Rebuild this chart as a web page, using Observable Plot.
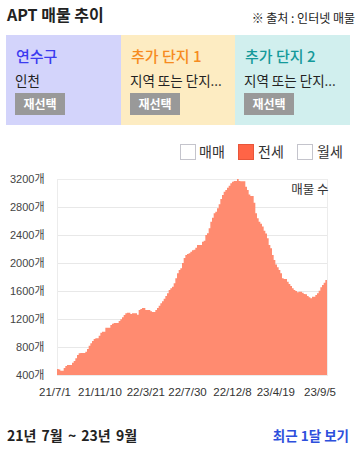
<!DOCTYPE html>
<html><head><meta charset="utf-8">
<script src="https://cdn.jsdelivr.net/npm/d3@7"></script>
<script src="https://cdn.jsdelivr.net/npm/@observablehq/plot@0.6"></script>
<style>
body{margin:0;width:358px;height:449px;position:relative;overflow:hidden;background:#fff;font-family:"Noto Sans CJK KR","Noto Sans",sans-serif;color:#222;}
.abs{position:absolute;white-space:nowrap;}
.panel{position:absolute;top:35px;height:90px;}
.pt{position:absolute;left:10px;top:13px;font-size:15px;line-height:15px;font-weight:500;}
.ps{position:absolute;left:9px;top:38px;font-size:13.5px;line-height:14px;color:#222;}
.btn{position:absolute;left:9px;top:58px;width:50px;height:22px;background:#999;color:#fff;font-size:12px;font-weight:700;line-height:22px;text-align:center;}
.box{position:absolute;top:144px;width:14px;height:14px;border:1px solid #c4c4cc;background:#fff;}
.lt{position:absolute;top:144px;font-size:14px;line-height:14px;color:#333;}
#chart{position:absolute;left:0;top:170px;}
</style></head>
<body>
<div class="abs" style="left:7px;top:6px;font-size:16px;line-height:16px;font-weight:700;">APT 매물 추이</div>
<div class="abs" style="right:3px;top:12px;font-size:12px;line-height:12px;color:#222;">※ 출처 : 인터넷 매물</div>

<div class="panel" style="left:6px;width:115px;background:#d3d4fb;">
  <div class="pt" style="color:#3b3bf0;">연수구</div>
  <div class="ps">인천</div>
  <div class="btn">재선택</div>
</div>
<div class="panel" style="left:121px;width:114px;background:#fdecc2;">
  <div class="pt" style="color:#f68b1f;">추가 단지 1</div>
  <div class="ps">지역 또는 단지...</div>
  <div class="btn">재선택</div>
</div>
<div class="panel" style="left:235px;width:115px;background:#d1efee;">
  <div class="pt" style="color:#14999a;">추가 단지 2</div>
  <div class="ps">지역 또는 단지...</div>
  <div class="btn">재선택</div>
</div>

<div class="box" style="left:180px;"></div>
<div class="lt" style="left:199px;">매매</div>
<div class="box" style="left:238px;background:#ff6446;border-color:#e8553a;"></div>
<div class="lt" style="left:258px;">전세</div>
<div class="box" style="left:297px;"></div>
<div class="lt" style="left:317px;">월세</div>

<div id="chart"></div>

<div class="abs" style="left:7px;top:428px;font-size:14px;line-height:14px;font-weight:600;color:#222;word-spacing:2px;">21년 7월 ~ 23년 9월</div>
<div class="abs" style="right:9px;top:428px;font-size:13.5px;line-height:14px;font-weight:600;color:#2d4fdc;">최근 1달 보기</div>

<script>
// 전세 매물 수 (개), equally spaced records
const listings = [
 486,480,461,461,500,529,543,543,543,576,600,638,686,710,714,714,714,733,771,819,
 853,886,914,924,924,962,1005,1019,1019,1076,1076,1076,1114,1133,1143,1143,1143,1171,1195,1224,
 1257,1281,1290,1290,1271,1281,1281,1281,1262,1329,1343,1357,1357,1329,1329,1329,1310,1300,1300,1329,
 1357,1390,1424,1452,1490,1529,1567,1614,1638,1660,1710,1781,1852,1900,1924,2000,2071,2114,2129,2140,
 2160,2181,2190,2219,2257,2257,2257,2305,2319,2400,2424,2495,2590,2648,2710,2733,2781,2838,2914,2971,
 3019,3043,3076,3105,3140,3162,3171,3171,3200,3171,3167,3167,3167,3090,3043,2980,2957,2957,2860,2710,
 2640,2590,2560,2520,2462,2420,2352,2257,2210,2114,2043,1980,1938,1900,1852,1781,1771,1771,1733,1700,
 1671,1638,1614,1600,1581,1590,1590,1576,1557,1553,1529,1510,1495,1519,1519,1543,1567,1605,1652,1686,
 1719,1757,1757
];
const tickLabels = ["21/7/1","21/11/10","22/3/21","22/7/30","22/12/8","23/4/19","23/9/5"];
const tickIndex = [-1.5, 25.5, 53, 78, 105, 131, 157.5];
const yTicks = [400, 800, 1200, 1600, 2000, 2400, 2800, 3200];
const seriesLabel = "매물 수";

const data = listings.map((v, i) => ({i, v}));
const ticks = tickLabels.map((t, k) => ({t, i: tickIndex[k]}));
const numFont = '"Liberation Sans","Noto Sans CJK KR",sans-serif';

const chart = Plot.plot({
  width: 358,
  height: 232,
  marginLeft: 57,
  marginRight: 31,
  marginTop: 9,
  marginBottom: 27,
  style: {fontFamily: '"Noto Sans CJK KR","Noto Sans",sans-serif', background: "transparent", overflow: "visible"},
  x: {domain: [0, listings.length - 1], axis: null},
  y: {domain: [400, 3200], axis: null},
  marks: [
    Plot.gridY(yTicks, {stroke: "#e8e8e8", strokeOpacity: 1}),
    Plot.frame({stroke: "#ececec"}),
    Plot.areaY(data, {x: "i", y1: 400, y2: "v", curve: "step-after", fill: "#ff8b70"}),
    Plot.axisY(yTicks, {tickSize: 0, tickPadding: 13, tickFormat: d => d + "개", fontSize: 11, fontFamily: numFont, color: "#444", label: null}),
    Plot.text(ticks, {x: "i", y: 400, dy: 17, text: "t", fontSize: 11.5, fontFamily: numFont, fill: "#333"}),
    Plot.text([seriesLabel], {frameAnchor: "top-right", dx: 1, dy: 6, text: d => d, fontSize: 12.5, fill: "#333", textAnchor: "end"})
  ]
});
document.getElementById("chart").appendChild(chart);
</script>
</body></html>
